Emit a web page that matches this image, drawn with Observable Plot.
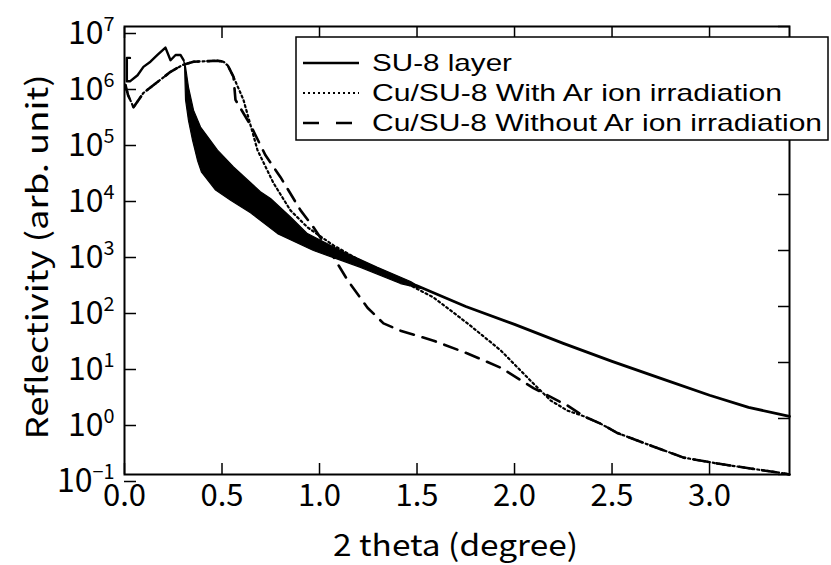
<!DOCTYPE html>
<html>
<head>
<meta charset="utf-8">
<script src="https://cdn.jsdelivr.net/npm/d3@7"></script>
<script src="https://cdn.jsdelivr.net/npm/@observablehq/plot@0.6"></script>
<style>
  html, body { margin: 0; padding: 0; background: #fff; }
  #chart { width: 831px; height: 565px; }
</style>
</head>
<body>
<div id="chart"></div>
<script>
const FONT = "'Noto Sans CJK JP', 'Noto Sans', sans-serif";
const LEGEND_FONT = "'Liberation Sans', Arial, sans-serif";

// Legend labels
const seriesNames = [
  "SU-8 layer",
  "Cu/SU-8 With Ar ion irradiation",
  "Cu/SU-8 Without Ar ion irradiation"
];

// Tick values and titles
const xTicks = [0, 0.5, 1.0, 1.5, 2.0, 2.5, 3.0];
const yTicks = [1e-1, 1e0, 1e1, 1e2, 1e3, 1e4, 1e5, 1e6, 1e7];
const xTitle = "2 theta (degree)";
const yTitle = "Reflectivity (arb. unit)";

// SU-8 layer: [2theta, reflectivity]
const su8Head = [
  [0.028, 2.75e6], [0.012, 2.75e6], [0.012, 1.05e6], [0.028, 1.05e6],
  [0.067, 1.35e6], [0.097, 1.9e6], [0.133, 2.35e6], [0.169, 3.1e6],
  [0.210, 4.2e6], [0.236, 2.5e6], [0.262, 3.1e6], [0.287, 3.1e6],
  [0.303, 2.5e6]
];
const su8Tail = [
  [1.40, 290], [1.5, 234], [1.75, 100], [2.0, 48], [2.25, 22], [2.5, 10.5],
  [2.75, 5.2], [3.0, 2.6], [3.2, 1.58], [3.41, 1.09]
];
// SU-8 fringe band: upper and lower envelopes
const su8BandUpper = [
  [0.303, 2.5e6], [0.313, 1.9e6], [0.328, 8.3e5], [0.354, 3.2e5],
  [0.390, 1.6e5], [0.477, 6.2e4], [0.559, 3.1e4], [0.697, 1.12e4],
  [0.749, 8.5e3], [0.850, 4.0e3], [0.938, 2.0e3], [1.108, 1.0e3],
  [1.297, 500], [1.467, 280], [1.52, 215]
];
const su8BandLower = [
  [0.303, 2.5e6], [0.308, 2.0e6], [0.313, 4.9e5], [0.328, 2.1e5],
  [0.349, 9.3e4], [0.374, 4.1e4], [0.395, 2.5e4], [0.467, 1.2e4],
  [0.544, 7.9e3], [0.646, 4.7e3], [0.785, 2.0e3], [0.969, 1.0e3],
  [1.210, 500], [1.415, 257], [1.52, 210]
];

// Cu/SU-8 curves: shared start, separate middles, shared tail
const cuStart = [
  [0.005, 9.0e5], [0.018, 6.0e5], [0.046, 3.6e5], [0.097, 6.5e5],
  [0.169, 1.02e6], [0.236, 1.55e6], [0.297, 2.05e6], [0.354, 2.35e6],
  [0.477, 2.45e6], [0.508, 2.35e6], [0.53, 2.0e6], [0.559, 1.26e6]
];
const cuWithMid = [
  [0.610, 4.9e5], [0.682, 6.2e4], [0.764, 1.6e4], [0.851, 5.2e3],
  [0.938, 2.6e3], [1.072, 1.23e3], [1.246, 560], [1.415, 295],
  [1.585, 145], [1.759, 50], [1.928, 16.6], [2.097, 4.2],
  [2.185, 2.1], [2.272, 1.38]
];
const cuWithoutMid = [
  [0.569, 4.9e5], [0.646, 1.74e5], [0.723, 5.0e4], [0.800, 2.04e4],
  [0.903, 5.2e3], [0.969, 2.6e3], [1.072, 760], [1.144, 295],
  [1.246, 95], [1.328, 50], [1.415, 37], [1.585, 24.5],
  [1.759, 14.5], [1.928, 8.1], [2.097, 3.5], [2.272, 1.7]
];
const cuTail = [
  [2.354, 1.1], [2.441, 0.81], [2.528, 0.55], [2.697, 0.33],
  [2.867, 0.20], [3.041, 0.157], [3.21, 0.128], [3.38, 0.105], [3.41, 0.10]
];

const cuWith = [...cuStart, ...cuWithMid, ...cuTail];
const cuWithout = [...cuStart, ...cuWithoutMid, ...cuTail];
const su8Band = [...su8BandUpper, ...su8BandLower.slice().reverse()];

const X = d => d[0], Y = d => d[1];
const expFmt = d => String(Math.round(Math.log10(d))).replace("-", "\u2212");

const chart = Plot.plot({
  width: 831,
  height: 565,
  marginLeft: 124,
  marginRight: 42,
  marginTop: 26,
  marginBottom: 91,
  style: { fontFamily: FONT, color: "black", background: "white", overflow: "visible" },
  x: { domain: [0, 3.41] },
  y: { type: "log", domain: [0.1, 1e7] },
  marks: [
    Plot.axisX({ ticks: xTicks, tickSize: -11, tickPadding: 20, tickFormat: d3.format(".1f"),
                 fontSize: 31, label: null, strokeWidth: 1.5 }),
    Plot.axisX({ anchor: "top", ticks: xTicks, tickSize: -11, tickFormat: () => "", label: null, strokeWidth: 1.5 }),
    Plot.axisY({ ticks: yTicks, tickSize: -12, tickPadding: 22, tickFormat: expFmt,
                 fontSize: 32, dy: 7, label: null, strokeWidth: 1.5 }),
    Plot.axisY({ anchor: "right", ticks: yTicks, tickSize: -12, tickFormat: () => "", label: null, strokeWidth: 1.5 }),
    Plot.line(su8Band, { x: X, y: Y, fill: "black", stroke: "black", strokeWidth: 1.2 }),
    Plot.line(su8Head, { x: X, y: Y, stroke: "black", strokeWidth: 2.4 }),
    Plot.line(su8Tail, { x: X, y: Y, stroke: "black", strokeWidth: 2.8 }),
    Plot.line(cuWith, { x: X, y: Y, stroke: "black", strokeWidth: 2.2, strokeDasharray: "2,3" }),
    Plot.line(cuWithout, { x: X, y: Y, stroke: "black", strokeWidth: 2.6, strokeDasharray: "14,9" }),
    Plot.frame({ stroke: "black", strokeWidth: 2 })
  ]
});

document.getElementById("chart").appendChild(chart);

// Superscript exponents on the y tick labels
const svg = d3.select(chart);
svg.selectAll('g[aria-label="y-axis tick label"] text').each(function () {
  const t = d3.select(this);
  const e = t.text();
  if (!e) return;
  t.text("");
  t.append("tspan").text("10");
  t.append("tspan").attr("dy", "-0.62em").attr("font-size", "0.62em").text(e);
});

// Axis titles
svg.append("text")
  .attr("x", 455.5).attr("y", 556)
  .attr("text-anchor", "middle")
  .attr("font-size", 30)
  .attr("font-family", FONT)
  .attr("fill", "black")
  .attr("textLength", 245).attr("lengthAdjust", "spacingAndGlyphs")
  .text(xTitle);
svg.append("text")
  .attr("transform", "translate(48,257) rotate(-90)")
  .attr("text-anchor", "middle")
  .attr("font-size", 30)
  .attr("font-family", FONT)
  .attr("fill", "black")
  .attr("textLength", 365).attr("lengthAdjust", "spacingAndGlyphs")
  .text(yTitle);

// Legend box (inside the plot, top right)
const lg = svg.append("g").attr("font-family", LEGEND_FONT).attr("font-size", 24).attr("text-anchor", "start");
lg.append("rect").attr("x", 296).attr("y", 37).attr("width", 532).attr("height", 103)
  .attr("fill", "white").attr("stroke", "black").attr("stroke-width", 1.5);
const legendDash = [null, "2,3", "16,17"];
const legendWidth = [2.6, 2.2, 2.6];
const legendTextLen = [140, 410, 450];
seriesNames.forEach((name, i) => {
  const cy = 63 + i * 30;
  lg.append("line").attr("x1", 303).attr("x2", 359).attr("y1", cy).attr("y2", cy)
    .attr("stroke", "black").attr("stroke-width", legendWidth[i])
    .attr("stroke-dasharray", legendDash[i]);
  lg.append("text").attr("x", 372).attr("y", cy + 8).attr("fill", "black")
    .attr("text-anchor", "start")
    .attr("textLength", legendTextLen[i]).attr("lengthAdjust", "spacingAndGlyphs")
    .text(name);
});
</script>
</body>
</html>
